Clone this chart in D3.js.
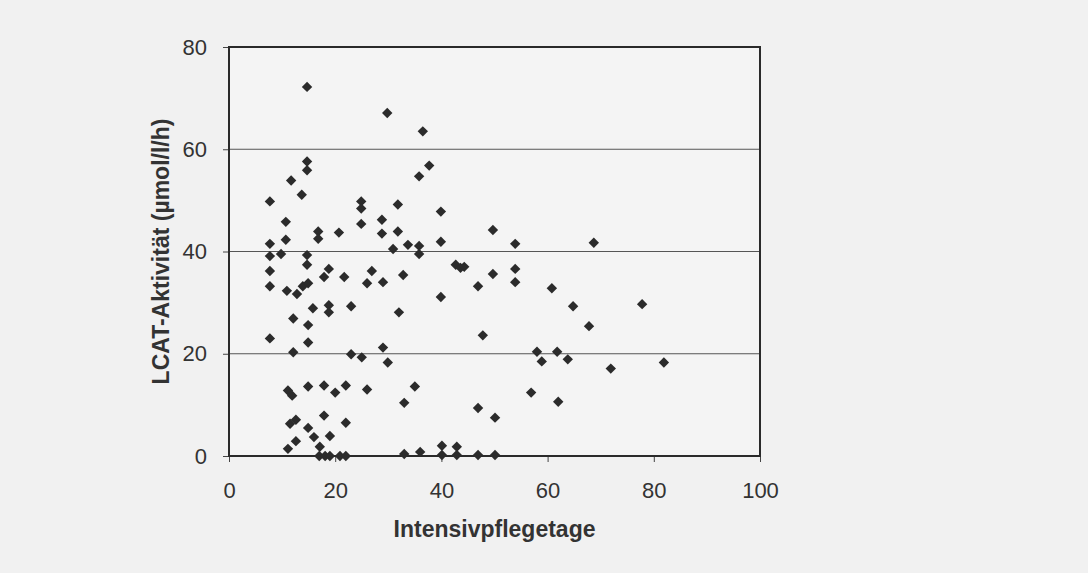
<!DOCTYPE html>
<html>
<head>
<meta charset="utf-8">
<script src="https://cdn.jsdelivr.net/npm/d3@7"></script>
<style>
  html, body { margin: 0; padding: 0; background: #f1f1f1; }
  svg { display: block; }
</style>
</head>
<body>
<div id="chart"></div>
<script>
// Data: Intensivpflegetage (x) vs LCAT-Aktivität (y)
const days = [
  7.7, 7.7, 7.7, 7.7, 7.7, 7.7, 9.8, 10.7, 10.7, 10.9,
  11.7, 12.1, 12.1, 11.1, 11.9, 11.5, 12.6, 11.1, 12.6, 12.8,
  13.7, 13.9, 14.7, 14.7, 14.7, 14.7, 14.7, 14.9, 14.9, 14.9,
  14.9, 14.9, 15.8, 16.0, 16.8, 16.8, 17.1, 17.0, 17.9, 17.9,
  17.9, 18.1, 18.8, 18.8, 18.8, 19.0, 19.0, 20.0, 20.7, 20.9,
  21.7, 22.0, 22.0, 22.0, 23.0, 23.0, 24.9, 24.9, 24.9, 25.0,
  26.0, 26.0, 26.9, 28.8, 28.8, 29.0, 29.0, 29.8, 29.9, 30.9,
  31.8, 31.8, 32.0, 32.8, 33.0, 33.0, 33.7, 35.0, 35.8, 35.8,
  35.8, 36.0, 36.5, 37.7, 39.9, 39.9, 39.9, 40.1, 40.1, 42.7,
  43.6, 44.3, 42.9, 42.9, 46.9, 46.9, 46.9, 47.8, 49.7, 49.7,
  50.1, 50.1, 53.9, 53.9, 53.9, 56.9, 58.0, 58.9, 60.8, 61.8,
  62.0, 63.8, 64.8, 67.8, 68.7, 71.9, 77.8, 81.9
];
const lcat = [
  49.8, 41.5, 39.1, 36.2, 33.2, 23.0, 39.5, 45.8, 42.3, 32.3,
  53.9, 26.9, 20.3, 12.8, 11.8, 6.3, 7.1, 1.4, 2.9, 31.7,
  51.1, 33.2, 72.2, 57.6, 55.9, 39.3, 37.4, 33.8, 25.6, 22.2,
  13.6, 5.5, 28.9, 3.7, 43.9, 42.5, 1.8, 0.0, 35.0, 13.8,
  7.9, 0.0, 36.6, 29.5, 28.1, 3.9, 0.0, 12.4, 43.7, 0.0,
  35.0, 13.8, 6.5, 0.0, 29.3, 19.9, 49.8, 48.4, 45.4, 19.3,
  33.8, 13.0, 36.2, 46.2, 43.5, 34.0, 21.2, 67.1, 18.3, 40.5,
  49.2, 43.9, 28.1, 35.4, 10.4, 0.4, 41.3, 13.6, 54.7, 41.1,
  39.5, 0.8, 63.5, 56.8, 47.8, 41.9, 31.1, 2.0, 0.2, 37.4,
  36.8, 37.0, 1.8, 0.2, 33.2, 9.4, 0.2, 23.6, 44.2, 35.6,
  7.5, 0.2, 41.5, 36.6, 34.0, 12.4, 20.4, 18.5, 32.8, 20.4,
  10.6, 18.9, 29.3, 25.4, 41.7, 17.1, 29.7, 18.3
];
const xTicks = [0, 20, 40, 60, 80, 100];
const yTicks = [0, 20, 40, 60, 80];
const gridValues = [20, 40, 60];
const xTitle = "Intensivpflegetage";
const yTitle = "LCAT-Aktivität (µmol/l/h)";

const W = 1088, H = 573;
const margin = { left: 229, right: 1088 - 760, top: 47, bottom: 573 - 456 };

const svg = d3.select("#chart").append("svg")
  .attr("width", W).attr("height", H);

svg.append("rect").attr("width", W).attr("height", H).attr("fill", "#f1f1f1");

const x = d3.scaleLinear().domain([0, 100]).range([margin.left, W - margin.right]);
const y = d3.scaleLinear().domain([0, 80]).range([H - margin.bottom, margin.top]);

// plot background
svg.append("rect")
  .attr("x", x(0)).attr("y", y(80))
  .attr("width", x(100) - x(0)).attr("height", y(0) - y(80))
  .attr("fill", "#f4f4f4");

// gridlines
svg.append("g").selectAll("line").data(gridValues).join("line")
  .attr("x1", x(0)).attr("x2", x(100))
  .attr("y1", d => y(d)).attr("y2", d => y(d))
  .attr("stroke", "#555").attr("stroke-width", 1);

const fontFam = "'Liberation Sans', Arial, sans-serif";

// y axis
const yAxis = svg.append("g")
  .attr("transform", `translate(${x(0)},0)`)
  .call(d3.axisLeft(y).tickValues(yTicks).tickSize(6).tickPadding(16));
yAxis.select(".domain").remove();
yAxis.selectAll("line").attr("stroke", "#444").attr("stroke-width", 1);
yAxis.selectAll("text").attr("font-family", fontFam).attr("font-size", 22).attr("fill", "#333");

// x axis
const xAxis = svg.append("g")
  .attr("transform", `translate(0,${y(0)})`)
  .call(d3.axisBottom(x).tickValues(xTicks).tickSize(6).tickPadding(20));
xAxis.select(".domain").remove();
xAxis.selectAll("line").attr("stroke", "#444").attr("stroke-width", 1);
xAxis.selectAll("text").attr("font-family", fontFam).attr("font-size", 22).attr("fill", "#333");

// frame
svg.append("rect")
  .attr("x", x(0)).attr("y", y(80))
  .attr("width", x(100) - x(0)).attr("height", y(0) - y(80))
  .attr("fill", "none").attr("stroke", "#2a2a2a").attr("stroke-width", 2);

// points
const pts = days.map((d, i) => ({ x: d, y: lcat[i] }));
const diamond = "M0,-5.2L5.2,0L0,5.2L-5.2,0Z";
svg.append("g").selectAll("path").data(pts).join("path")
  .attr("d", diamond)
  .attr("transform", d => `translate(${x(d.x)},${y(d.y)})`)
  .attr("fill", "#2b2b2b");

// titles
svg.append("text")
  .attr("x", (x(0) + x(100)) / 2).attr("y", 537)
  .attr("text-anchor", "middle")
  .attr("font-family", fontFam).attr("font-weight", "bold").attr("font-size", 23)
  .attr("fill", "#333").text(xTitle);

svg.append("text")
  .attr("transform", `translate(169,${(y(0) + y(80)) / 2}) rotate(-90)`)
  .attr("text-anchor", "middle")
  .attr("font-family", fontFam).attr("font-weight", "bold").attr("font-size", 23)
  .attr("fill", "#333").text(yTitle);
</script>
</body>
</html>
